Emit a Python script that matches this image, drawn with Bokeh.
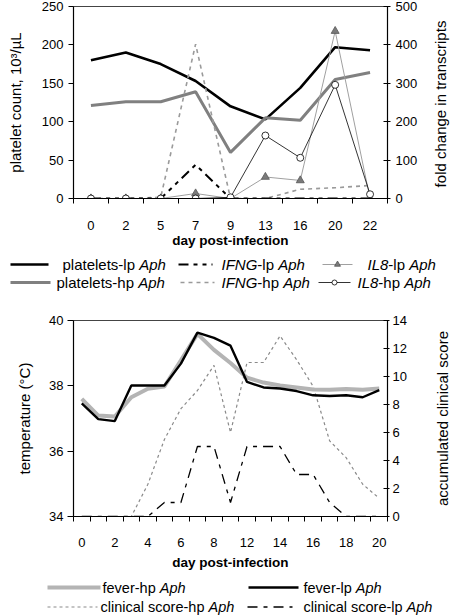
import math
from bokeh.plotting import figure
from bokeh.models import Range1d, LinearAxis, FixedTicker
from bokeh.layouts import column, row
from bokeh.core.properties import value
from bokeh.embed import file_html
from bokeh.resources import INLINE

FONT = "Liberation Sans"

# ---------------- data: top panel ----------------
top_days = ["0", "2", "5", "7", "9", "13", "16", "20", "22"]
platelets_lp = [180, 190, 175, 153, 120, 103, 144, 197, 193]
platelets_hp = [121, 126, 126, 139, 60, 105, 102, 155, 164]
ifng_lp = [0, 0, 0, 88, 0, 0, 0, 0, 0]
ifng_hp = [0, 0, 3, 402, 0, 0, 24, 28, 34]
il8_lp = [0, 0, 0, 13, 0, 56, 47, 436, 0]
il8_hp = [0, 0, 0, 0, 3, 164, 106, 296, 11]
top_left_ticks = [0, 50, 100, 150, 200, 250]
top_right_ticks = [0, 100, 200, 300, 400, 500]

# ---------------- data: bottom panel ----------------
bottom_days = ["0", "1", "2", "3", "4", "5", "6", "7", "8", "9",
               "12", "13", "14", "15", "16", "17", "18", "19", "20"]
fever_hp = [37.60, 37.09, 37.06, 37.65, 37.91, 37.98, 38.78, 39.59, 39.10, 38.70,
            38.25, 38.10, 38.01, 37.95, 37.89, 37.88, 37.90, 37.88, 37.92]
fever_lp = [37.46, 36.98, 36.92, 38.01, 38.01, 38.01, 38.68, 39.63, 39.47, 39.23,
            38.12, 37.95, 37.92, 37.84, 37.71, 37.69, 37.71, 37.65, 37.87]
score_hp = [0, 0, 0, 0, 2.3, 5.5, 7.7, 9.0, 10.8, 6.0,
            11.0, 11.0, 12.9, 11.2, 9.3, 5.4, 4.2, 2.3, 1.3]
score_lp = [0, 0, 0, 0, 0, 1, 1, 5, 5, 1,
            5, 5, 5, 3, 3, 1, 0, 0, 0]
bottom_left_ticks = [34, 36, 38, 40]
bottom_right_ticks = [0, 2, 4, 6, 8, 10, 12, 14]

# Arial / Liberation Sans advance widths (per 1000 em)
W = {' ': 278, 'a': 556, 'b': 556, 'c': 500, 'd': 556, 'e': 556, 'f': 278, 'g': 556,
     'h': 556, 'i': 222, 'j': 222, 'k': 500, 'l': 222, 'm': 833, 'n': 556, 'o': 556,
     'p': 556, 'q': 556, 'r': 333, 's': 500, 't': 278, 'u': 556, 'v': 500, 'w': 722,
     'x': 500, 'y': 500, 'z': 500, '-': 333, 'A': 667, 'F': 611, 'G': 778, 'I': 278,
     'L': 556, 'N': 722, '8': 556}


def tw(s, size):
    return sum(W.get(c, 556) for c in s) * size / 1000.0


def style_common(p):
    p.grid.visible = False
    p.background_fill_color = "white"
    p.border_fill_color = "white"
    p.outline_line_color = "#444444"
    p.outline_line_width = 1


def style_x(p, n, label_idx, labels, lab_standoff, title_standoff):
    ax = p.xaxis[0]
    ax.ticker = FixedTicker(ticks=label_idx, minor_ticks=[i - 0.5 for i in range(n + 1)])
    ax.major_label_overrides = {i: labels[i] for i in label_idx}
    ax.major_tick_out = 0
    ax.major_tick_in = 0
    ax.minor_tick_out = 5
    ax.minor_tick_in = 0
    ax.minor_tick_line_color = "black"
    ax.axis_line_color = "black"
    ax.axis_line_width = 1.2
    ax.major_label_text_font = FONT
    ax.major_label_text_font_size = "13px"
    ax.major_label_text_color = "black"
    ax.major_label_standoff = lab_standoff
    ax.axis_label = "day post-infection"
    ax.axis_label_text_font = FONT
    ax.axis_label_text_font_style = "bold"
    ax.axis_label_text_font_size = "13.5px"
    ax.axis_label_text_color = "black"
    ax.axis_label_standoff = title_standoff


def style_y(ax, ticks, label, tin, tout, standoff, lstandoff):
    ax.ticker = FixedTicker(ticks=ticks)
    ax.minor_tick_line_color = None
    ax.major_tick_in = tin
    ax.major_tick_out = tout
    ax.major_tick_line_color = "black"
    ax.axis_line_color = "black"
    ax.axis_line_width = 1.2
    ax.major_label_text_font = FONT
    ax.major_label_text_font_size = "13px"
    ax.major_label_text_color = "black"
    ax.major_label_standoff = standoff
    if label:
        ax.axis_label = label
        ax.axis_label_text_font = FONT
        ax.axis_label_text_font_style = "normal"
        ax.axis_label_text_font_size = "15px"
        ax.axis_label_text_color = "black"
        ax.axis_label_standoff = lstandoff


def blank_fig(w, h):
    f = figure(width=w, height=h, x_range=Range1d(0, w), y_range=Range1d(h, 0),
               toolbar_location=None, output_backend="svg",
               min_border_left=0, min_border_right=0, min_border_top=0, min_border_bottom=0,
               x_axis_type=None, y_axis_type=None, frame_align=False)
    f.grid.visible = False
    f.outline_line_color = None
    f.background_fill_color = "white"
    f.border_fill_color = "white"
    return f


def title_fig(w, h, cx, cy, text):
    f = blank_fig(w, h)
    f.text([cx], [cy], [text], angle=math.pi / 2, text_font=value(FONT), text_font_size="15px",
           text_color="black", text_align="center", text_baseline="middle")
    return f


def legend_fig(h, items, fsize):
    lf = blank_fig(450, h)
    nx, ny, nt, ix, iy, itx = [], [], [], [], [], []
    for it_ in items:
        kw = dict(line_color=it_["color"], line_width=it_["width"])
        if it_.get("dash"):
            kw["line_dash"] = it_["dash"]
        lf.line([it_["x0"], it_["x1"]], [it_["y"], it_["y"]], **kw)
        if it_.get("marker"):
            m = it_["marker"]
            lf.scatter([(it_["x0"] + it_["x1"]) / 2.0], [it_["y"]], marker=m[0], size=m[1],
                       fill_color=m[2], line_color=m[3], line_width=0.8)
        cx = it_["tx"]
        for s, ital in it_["segs"]:
            if ital:
                ix.append(cx); iy.append(it_["y"]); itx.append(s)
            else:
                nx.append(cx); ny.append(it_["y"]); nt.append(s)
            cx += tw(s, fsize)
    common = dict(text_font=value(FONT), text_font_size=f"{fsize}px", text_color="black",
                  text_baseline="middle", text_align="left")
    lf.text(nx, ny, nt, text_font_style="normal", **common)
    lf.text(ix, iy, itx, text_font_style="italic", **common)
    return lf


CW = 428   # chart width; a 22 px strip on the right holds the right-axis title

# ---------------- top panel (window y 0..250) ----------------
xt = list(range(len(top_days)))
p1 = figure(width=CW, height=250, x_range=Range1d(-0.5, len(top_days) - 0.5),
            y_range=Range1d(0, 250), toolbar_location=None, output_backend="svg",
            min_border_left=73, min_border_right=CW - 387, min_border_top=6, min_border_bottom=49)
style_common(p1)
p1.extra_y_ranges = {"fc": Range1d(0, 500)}
style_x(p1, len(top_days), xt, top_days, 17, 0)
style_y(p1.yaxis[0], top_left_ticks, "platelet count, 10\u00b3/\u00b5L", 0, 5, 5, 15)
rax1 = LinearAxis(y_range_name="fc")
p1.add_layout(rax1, "right")
style_y(rax1, top_right_ticks, None, 4, 3, 5, 0)

p1.line(xt, platelets_lp, line_color="black", line_width=2.6)
p1.line(xt, platelets_hp, line_color="#808080", line_width=3)
p1.line(xt, ifng_hp, y_range_name="fc", line_color="#9a9a9a", line_width=1.6, line_dash="4 4")
p1.line(xt, ifng_lp, y_range_name="fc", line_color="black", line_width=2, line_dash="10 5 4 5 4 5")
p1.line(xt, il8_lp, y_range_name="fc", line_color="#a0a0a0", line_width=1)
p1.scatter(xt, il8_lp, y_range_name="fc", marker="triangle", size=8,
           fill_color="#7a7a7a", line_color="#555555", line_width=0.8)
p1.line(xt, il8_hp, y_range_name="fc", line_color="black", line_width=0.8)
p1.scatter(xt, il8_hp, y_range_name="fc", marker="circle", size=7,
           fill_color="white", line_color="black", line_width=0.8)

t1 = title_fig(450 - CW, 250, 12, (6 + 201) / 2.0, "fold change in transcripts")

leg1_items = [
    dict(x0=10, x1=48, y=14, color="black", width=2.6, tx=62,
         segs=[("platelets-lp ", False), ("Aph", True)]),
    dict(x0=10, x1=50, y=32, color="#808080", width=3, tx=56,
         segs=[("platelets-hp ", False), ("Aph", True)]),
    dict(x0=178, x1=212, y=14, color="black", width=2, dash="10 5 4 5 4 5", tx=221,
         segs=[("IFNG", True), ("-lp ", False), ("Aph", True)]),
    dict(x0=180, x1=214, y=32, color="#9a9a9a", width=1.6, dash="4 4", tx=221,
         segs=[("IFNG", True), ("-hp ", False), ("Aph", True)]),
    dict(x0=322, x1=352, y=14, color="#a0a0a0", width=1, tx=367,
         marker=("triangle", 6, "#7a7a7a", "#555555"),
         segs=[("IL8", True), ("-lp ", False), ("Aph", True)]),
    dict(x0=318, x1=350, y=32, color="black", width=0.8, tx=357,
         marker=("circle", 5, "white", "black"),
         segs=[("IL8", True), ("-hp ", False), ("Aph", True)]),
]
l1 = legend_fig(42, leg1_items, 15)

# ---------------- bottom panel (window y 292..572) ----------------
xb = list(range(len(bottom_days)))
p2 = figure(width=CW, height=280, x_range=Range1d(-0.5, len(bottom_days) - 0.5),
            y_range=Range1d(34, 40), toolbar_location=None, output_backend="svg",
            min_border_left=73, min_border_right=CW - 387, min_border_top=28, min_border_bottom=56)
style_common(p2)
p2.extra_y_ranges = {"cs": Range1d(0, 14)}
style_x(p2, len(bottom_days), xb[::2], bottom_days, 16, 5)
style_y(p2.yaxis[0], bottom_left_ticks, "temperature (\u00b0C)", 0, 6, 4, 13)
rax2 = LinearAxis(y_range_name="cs")
p2.add_layout(rax2, "right")
style_y(rax2, bottom_right_ticks, None, 4, 2, 3, 0)

p2.line(xb, score_hp, y_range_name="cs", line_color="#8a8a8a", line_width=1.2, line_dash="3 3")
p2.line(xb, score_lp, y_range_name="cs", line_color="black", line_width=1.3, line_dash="10 6 4 6")
p2.line(xb, fever_hp, line_color="#b4b4b4", line_width=4)
p2.line(xb, fever_lp, line_color="black", line_width=2.4)

t2 = title_fig(450 - CW, 280, 14, (28 + 224) / 2.0, "accumulated clinical score")

leg2_items = [
    dict(x0=47, x1=100, y=15, color="#b4b4b4", width=4, tx=102,
         segs=[("fever-hp ", False), ("Aph", True)]),
    dict(x0=248, x1=298, y=15, color="black", width=2.4, tx=303,
         segs=[("fever-lp ", False), ("Aph", True)]),
    dict(x0=47, x1=97, y=34.5, color="#8a8a8a", width=1.2, dash="3 3", tx=100,
         segs=[("clinical score-hp ", False), ("Aph", True)]),
    dict(x0=247, x1=292, y=34.5, color="black", width=1.3, dash="10 6 4 6", tx=303,
         segs=[("clinical score-lp ", False), ("Aph", True)]),
]
l2 = legend_fig(43, leg2_items, 14.5)

root = column(row(p1, t1, spacing=0), l1, row(p2, t2, spacing=0), l2, spacing=0)
open("out.html", "w").write(file_html(root, INLINE))
